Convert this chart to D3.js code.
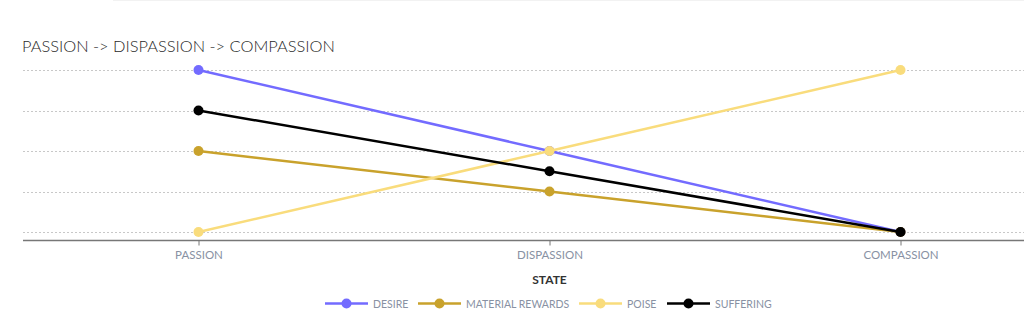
<!DOCTYPE html>
<html>
<head>
<meta charset="utf-8">
<script src="https://cdn.jsdelivr.net/npm/d3@7"></script>
<style>
  html, body { margin: 0; padding: 0; background: #fff; }
  svg { display: block; font-family: Lato, "Open Sans", sans-serif; }
</style>
</head>
<body>
<svg id="chart" width="1024" height="325"></svg>
<script>
// Stages of the path
const states = ["PASSION", "DISPASSION", "COMPASSION"];

// Series values per stage
const desire = [4, 2, 0];
const materialRewards = [2, 1, 0];
const poise = [0, 2, 4];
const suffering = [3, 1.5, 0];

const seriesNames = ["DESIRE", "MATERIAL REWARDS", "POISE", "SUFFERING"];
const seriesValues = [desire, materialRewards, poise, suffering];
const seriesColors = ["#736bff", "#c9a22c", "#f9dc7c", "#000000"];

const yTicks = [0, 1, 2, 3, 4];

const svg = d3.select("#chart");
const W = 1024;

// faint top border
svg.append("line")
  .attr("x1", 113).attr("x2", W).attr("y1", 0.5).attr("y2", 0.5)
  .attr("stroke", "#f2f2f2").attr("stroke-width", 1);

// title
svg.append("text")
  .attr("x", 22).attr("y", 52)
  .attr("font-size", 16.4).attr("font-weight", 300).attr("fill", "#2a2a2a")
  .text("PASSION -> DISPASSION -> COMPASSION");

const x = d3.scalePoint().domain(states).range([23, 1076]).padding(0.5);
const y = d3.scaleLinear().domain([0, 4]).range([232, 70]);

// horizontal dotted grid
svg.append("g").selectAll("line").data(yTicks).join("line")
  .attr("x1", 23).attr("x2", W)
  .attr("y1", d => Math.round(y(d)) + 0.5).attr("y2", d => Math.round(y(d)) + 0.5)
  .attr("stroke", "#c8c8c8").attr("stroke-width", 1)
  .attr("stroke-dasharray", "2,2");

// x axis
const xAxis = svg.append("g").attr("transform", "translate(0,240.5)")
  .call(d3.axisBottom(x).tickSize(5).tickPadding(5));
xAxis.select(".domain").attr("stroke", "#777").attr("stroke-width", 1.5)
  .attr("d", `M23,0H${W}`);
xAxis.selectAll(".tick line").attr("stroke", "#777");
xAxis.selectAll(".tick text")
  .attr("font-family", "Lato, sans-serif")
  .attr("font-size", 11.5).attr("fill", "#8891a3");

// axis title
svg.append("text")
  .attr("x", x("DISPASSION")).attr("y", 284)
  .attr("text-anchor", "middle")
  .attr("font-size", 12).attr("font-weight", "bold").attr("fill", "#333")
  .text("STATE");

// series lines and markers
const line = d3.line().x((d, i) => x(states[i])).y(d => y(d));
seriesValues.forEach((vals, k) => {
  const g = svg.append("g");
  g.append("path").datum(vals)
    .attr("d", line)
    .attr("fill", "none")
    .attr("stroke", seriesColors[k])
    .attr("stroke-width", 2.5);
  g.selectAll("circle").data(vals).join("circle")
    .attr("cx", (d, i) => x(states[i]))
    .attr("cy", d => y(d))
    .attr("r", 5)
    .attr("fill", seriesColors[k]);
});

// legend
const legendX = [325, 418, 579, 667];
const legendY = 303.5;
const leg = svg.append("g");
seriesNames.forEach((name, k) => {
  const lx = legendX[k];
  leg.append("line")
    .attr("x1", lx).attr("x2", lx + 43)
    .attr("y1", legendY).attr("y2", legendY)
    .attr("stroke", seriesColors[k]).attr("stroke-width", 2.5);
  leg.append("circle")
    .attr("cx", lx + 21.5).attr("cy", legendY).attr("r", 5)
    .attr("fill", seriesColors[k]);
  leg.append("text")
    .attr("x", lx + 48).attr("y", legendY + 4)
    .attr("font-size", 10.5).attr("fill", "#8891a3")
    .text(name);
});
</script>
</body>
</html>
